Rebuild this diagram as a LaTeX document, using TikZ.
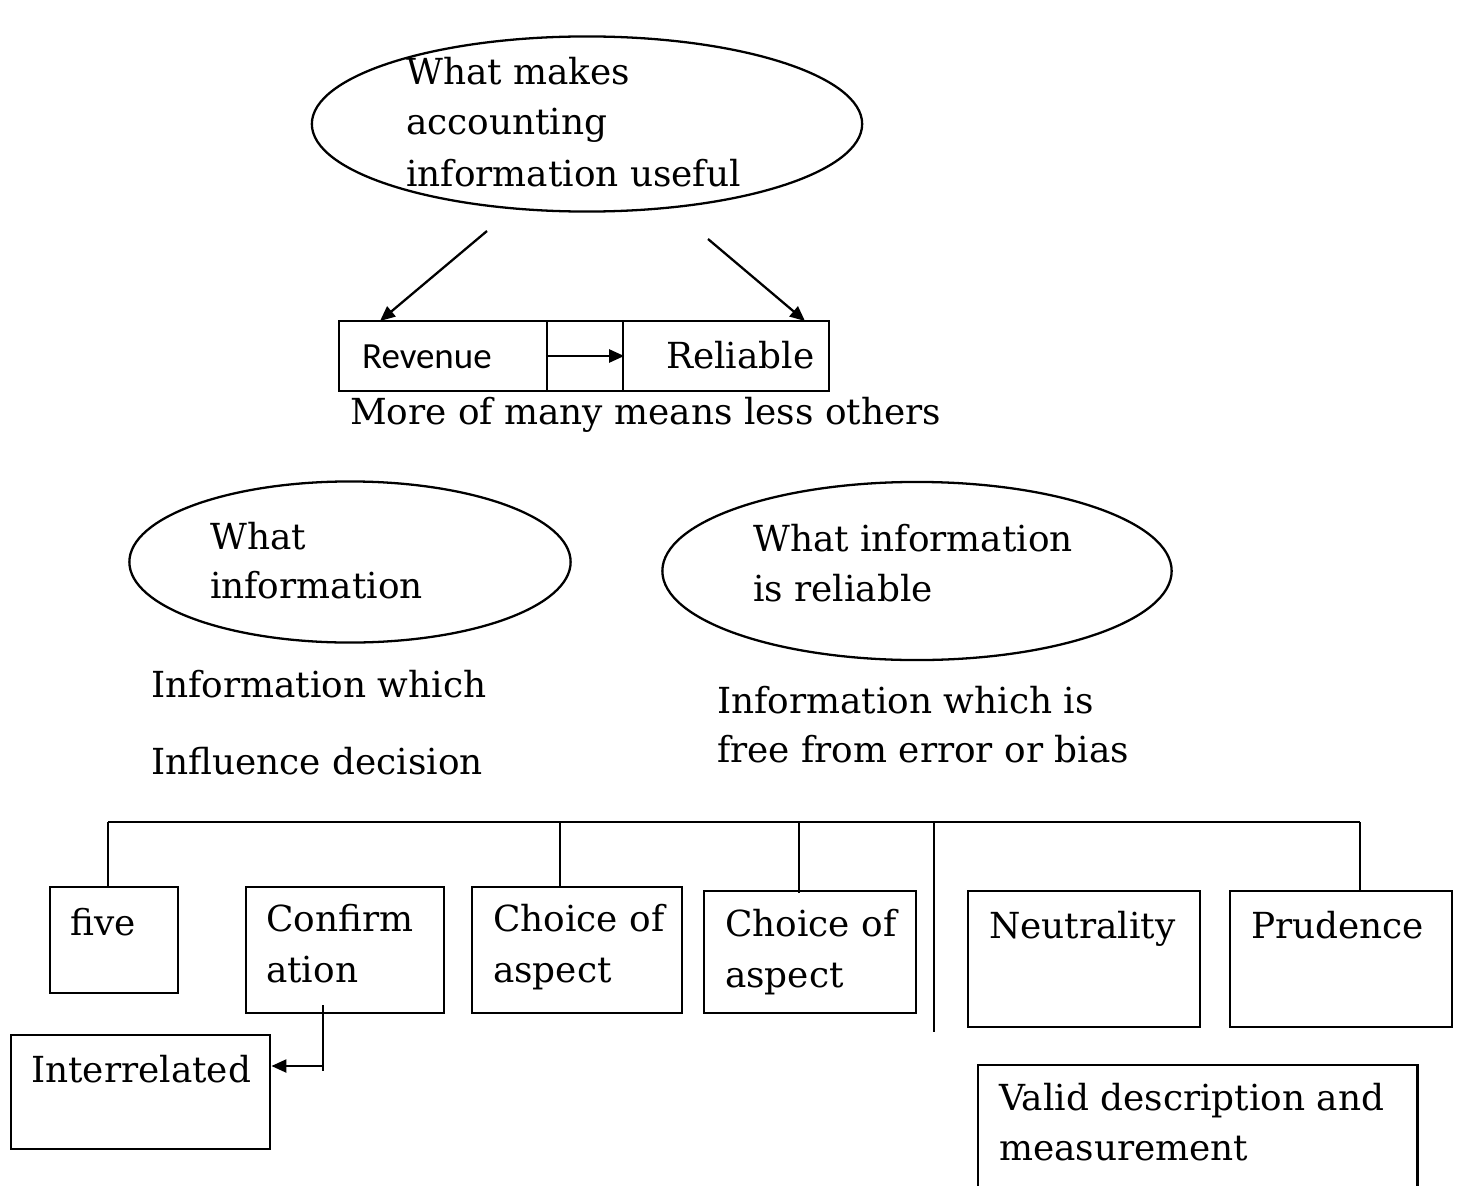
\documentclass[tikz,border=0pt]{standalone}
\usepackage{fontspec}
\setmainfont{DejaVu Serif}
\newfontfamily\revfont{Carlito}
\usetikzlibrary{arrows.meta,shapes.geometric}

\tikzset{question/.style={draw,ellipse,inner sep=0cm},
cell/.style={draw,rectangle,inner sep=0cm},
entry/.style={draw,rectangle,inner sep=0cm,anchor=north west},
words/.style={font=\fontsize{10.2}{14}\selectfont,anchor=base west,inner sep=0cm},
link/.style={-{Triangle[length=0.15cm,width=0.13cm]}}}

\begin{document}
\begin{tikzpicture}[x=0.01cm,y=-0.01cm,line width=0.65pt]
\clip (0,0) rectangle (1458,1185);

%% question ellipses
\node [question,minimum width=5.50cm,minimum height=1.75cm] (useful) at (587,124) {};
\node [question,minimum width=4.41cm,minimum height=1.61cm] (relevant) at (350,562) {};
\node [question,minimum width=5.09cm,minimum height=1.78cm] (reliable) at (917,571) {};

%% trade-off row
\node [cell,minimum width=2.08cm,minimum height=0.70cm] (rev) at (443,356) {};
\node [cell,minimum width=0.76cm,minimum height=0.70cm] (mid) at (585,356) {};
\node [cell,minimum width=2.06cm,minimum height=0.70cm] (rel) at (726,356) {};

%% quality boxes
\node [entry,minimum width=1.28cm,minimum height=1.06cm] (five) at (49,886) {};
\node [entry,minimum width=1.98cm,minimum height=1.26cm] (confirm) at (245,886) {};
\node [entry,minimum width=2.10cm,minimum height=1.26cm] (choiceA) at (471,886) {};
\node [entry,minimum width=2.12cm,minimum height=1.22cm] (choiceB) at (703,890) {};
\node [entry,minimum width=2.32cm,minimum height=1.36cm] (neutral) at (967,890) {};
\node [entry,minimum width=2.22cm,minimum height=1.36cm] (prudence) at (1229,890) {};
\node [entry,minimum width=2.59cm,minimum height=1.14cm] (inter) at (10,1034) {};
\node [entry,minimum width=4.39cm,minimum height=1.40cm] (valid) at (977,1064) {};

%% coordinates of free ends
\coordinate (u1) at (487,231);
\coordinate (u2) at (708,239);
\coordinate (t1) at (380,321);
\coordinate (t2) at (805,321);
\coordinate (b1) at (108,822);
\coordinate (b2) at (560,822);
\coordinate (b3) at (799,822);
\coordinate (b4) at (934,822);
\coordinate (b5) at (1360,822);
\coordinate (b3e) at (799,893);
\coordinate (b4e) at (934,1032);
\coordinate (c1) at (323,1005);
\coordinate (c2) at (323,1071);
\coordinate (c3) at (323,1066);

%% arrows
\draw [link] (u1) -- (t1);
\draw [link] (u2) -- (t2);
\draw [link] (mid.west) -- (mid.east);
\draw (c1) -- (c2);
\draw [link] (c3) -- (inter.east |- c3);

%% bus lines
\draw (b1) -- (b5);
\draw (b1) -- (b1 |- five.north);
\draw (b2) -- (b2 |- choiceA.north);
\draw (b3) -- (b3e);
\draw (b4) -- (b4e);
\draw (b5) -- (b5 |- prudence.north);

%% labels
\node [words] (l1) at (405,85) {What makes};
\node [words] (l2) at (405,135) {accounting};
\node [words] (l3) at (405,186) {information useful};
\node [words,font=\revfont\fontsize{10.5}{12}\selectfont] (l4) at (361,368) {Revenue};
\node [words] (l5) at (665,368) {Reliable};
\node [words] (l6) at (349,424) {More of many means less others};
\node [words] (l7) at (209,549) {What};
\node [words] (l8) at (209,598) {information};
\node [words] (l9) at (752,551) {What information};
\node [words] (l10) at (752,601) {is reliable};
\node [words] (l11) at (150,697) {Information which};
\node [words] (l12) at (150,774) {Influence decision};
\node [words] (l13) at (716,713) {Information which is};
\node [words] (l14) at (716,762) {free from error or bias};
\node [words] (l15) at (69,935) {five};
\node [words] (l16) at (265,931) {Confirm};
\node [words] (l17) at (265,982) {ation};
\node [words] (l18) at (492,931) {Choice of};
\node [words] (l19) at (492,982) {aspect};
\node [words] (l20) at (724,936) {Choice of};
\node [words] (l21) at (724,987) {aspect};
\node [words] (l22) at (988,938) {Neutrality};
\node [words] (l23) at (1250,938) {Prudence};
\node [words] (l24) at (30,1082) {Interrelated};
\node [words] (l25) at (998,1110) {Valid description and};
\node [words] (l26) at (998,1160) {measurement};

\end{tikzpicture}
\end{document}
